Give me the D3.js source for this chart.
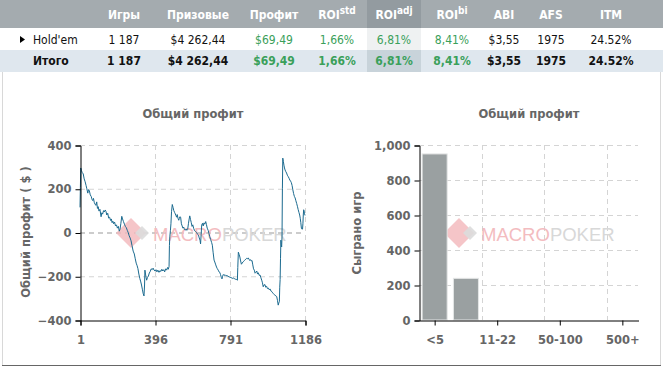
<!DOCTYPE html>
<html>
<head>
<meta charset="utf-8">
<script src="https://cdn.jsdelivr.net/npm/d3@7"></script>
<style>
  html, body { margin: 0; padding: 0; background: #fff; }
  svg { display: block; }
  .tbl { font-family: "DejaVu Sans Condensed", "DejaVu Sans", sans-serif; font-size: 12px; }
  .ax { font-family: "DejaVu Sans", Verdana, sans-serif; font-size: 11.5px; font-weight: bold; fill: #666; }
</style>
</head>
<body>
<svg id="chart" width="663" height="368"></svg>
<script>
(function() {
  // table data
  const tableHeaders = [["Игры"], ["Призовые"], ["Профит"], ["ROI", "std"], ["ROI", "adj"], ["ROI", "bi"], ["ABI"], ["AFS"], ["ITM"]];
  const holdemRow = ["1 187", "$4 262,44", "$69,49", "1,66%", "6,81%", "8,41%", "$3,55", "1975", "24.52%"];
  const totalRow = ["1 187", "$4 262,44", "$69,49", "1,66%", "6,81%", "8,41%", "$3,55", "1975", "24.52%"];
  const greenCols = [2, 3, 4, 5];

  // cumulative profit, [game, $]
  const profitCurve = [
    [1,115],[3,205],[5,295],[8,285],[12,275],[18,268],[23,245],[28,232],[33,215],[37,200],[42,180],[46,196],[50,192],
    [55,172],[60,165],[65,150],[68,146],[72,156],[76,138],[80,130],[85,124],[89,140],[93,110],[97,118],[101,98],
    [106,106],[112,72],[116,90],[120,84],[125,100],[129,94],[134,103],[138,96],[142,80],[147,88],[152,66],[157,70],
    [162,55],[166,62],[170,45],[174,52],[178,40],[183,48],[188,30],[193,35],[198,20],[203,28],[208,6],[212,16],
    [216,40],[221,74],[225,62],[230,50],[235,38],[240,28],[245,22],[250,10],[255,0],[260,-15],[265,-25],[270,-38],
    [275,-60],[281,-85],[287,-98],[292,-120],[297,-140],[302,-152],[306,-165],[311,-190],[316,-210],[320,-222],
    [325,-240],[330,-262],[334,-280],[338,-290],[341,-240],[343,-172],[346,-190],[349,-205],[352,-218],[356,-206],
    [361,-200],[366,-185],[371,-178],[376,-166],[381,-170],[386,-163],[391,-172],
    [396,-176],[401,-170],[406,-180],[411,-172],[417,-182],[422,-174],[427,-178],[432,-168],[437,-176],[442,-170],
    [447,-180],[452,-166],[457,-172],[462,-160],[466,-168],[470,-156],[472,-60],[474,-20],[477,8],[480,40],[483,95],
    [487,128],[491,115],[495,100],[499,92],[503,85],[506,78],[510,70],[513,82],[517,65],[521,56],[524,64],[527,72],
    [531,70],[535,40],[539,30],[543,20],[547,25],[551,14],[556,11],[560,16],[564,10],[568,14],[572,40],[576,62],
    [579,76],[583,60],[587,45],[591,28],[595,35],[600,18],[605,8],[610,4],[615,0],[620,-8],[625,-12],[629,-25],
    [633,-35],[636,-52],[639,-10],[642,34],[646,42],[650,30],[654,44],[658,38],[663,50],[667,36],[671,20],[676,10],
    [680,-4],[684,-18],[689,-32],[694,-45],[698,-58],[702,-90],[707,-126],[711,-135],[716,-148],[720,-158],
    [724,-165],[729,-172],[733,-180],[737,-182],[741,-192],[745,-205],[749,-212],[752,-200],[756,-192],[760,-196],
    [765,-193],[770,-198],[775,-197],[781,-200],[786,-203],
    [791,-204],[796,-206],[801,-208],[806,-210],[811,-208],[816,-212],[821,-214],[826,-215],[830,-218],[832,-160],
    [835,-90],[839,-100],[843,-112],[847,-130],[851,-145],[855,-140],[859,-135],[863,-132],[867,-128],[871,-124],
    [875,-122],[879,-118],[883,-120],[887,-116],[891,-122],[895,-128],[899,-124],[903,-130],[907,-128],[911,-148],
    [915,-166],[919,-172],[923,-186],[927,-182],[932,-176],[936,-190],[940,-184],[945,-196],[949,-194],[953,-205],
    [958,-218],[962,-230],[966,-248],[970,-240],[975,-238],[979,-250],[984,-246],[988,-256],[993,-254],[998,-262],
    [1002,-258],[1007,-268],[1011,-270],[1016,-276],[1020,-280],[1024,-284],[1028,-287],[1033,-290],[1037,-293],
    [1041,-310],[1045,-332],[1048,-322],[1051,-316],[1053,-250],[1055,-215],[1057,-120],[1059,-35],[1061,-55],
    [1063,-66],[1065,-20],[1067,200],[1069,340],[1072,325],[1075,308],[1078,295],[1081,286],[1085,278],[1089,272],
    [1093,262],[1098,255],[1102,248],[1106,240],[1110,235],[1114,228],[1118,215],[1122,195],[1126,178],[1130,165],
    [1134,158],[1138,145],[1142,133],[1146,120],[1150,105],[1154,92],[1158,80],[1161,65],[1164,45],[1167,20],
    [1170,15],[1173,16],[1175,40],[1177,80],[1179,104],[1181,100],[1183,88],[1186,78]
  ];
  const profitXTicks = [1, 396, 791, 1186];
  const profitYTicks = [-400, -200, 0, 200, 400];

  // buy-in distribution
  const buyinCats = ["<5", "5-11", "11-22", "22-50", "50-100", "100-500", "500+"];
  const buyinGames = [949, 238, 0, 0, 0, 0, 0];
  const buyinLabelCats = ["<5", "11-22", "50-100", "500+"];
  const gamesTicks = [0, 200, 400, 600, 800, 1000];

  const svg = d3.select('#chart');

  // ---- table ----
  const colX = [124, 198, 274, 337, 394, 452, 504, 551, 611];
  const tbl = svg.append('g').attr('class', 'tbl');
  tbl.append('rect').attr('x', 0).attr('y', 0).attr('width', 663).attr('height', 28).attr('fill', '#a4abaf');
  tbl.append('rect').attr('x', 367).attr('y', 0).attr('width', 54).attr('height', 28).attr('fill', '#939ba0');
  tbl.append('rect').attr('x', 0).attr('y', 28).attr('width', 663).attr('height', 22).attr('fill', '#fff');
  tbl.append('rect').attr('x', 367).attr('y', 28).attr('width', 54).attr('height', 22).attr('fill', '#eff1f2');
  tbl.append('rect').attr('x', 0).attr('y', 50).attr('width', 663).attr('height', 22).attr('fill', '#dfe7ee');
  tbl.append('rect').attr('x', 367).attr('y', 50).attr('width', 54).attr('height', 22).attr('fill', '#c8d3da');

  tbl.selectAll('text.head')
    .data(tableHeaders)
    .enter()
    .append('text')
    .attr('class', 'head')
    .attr('x', (d, i) => colX[i])
    .attr('y', 19)
    .attr('text-anchor', 'middle')
    .attr('fill', '#fff')
    .attr('font-weight', 'bold')
    .each(function(d) {
      const t = d3.select(this);
      t.append('tspan').text(d[0]);
      if (d[1]) t.append('tspan').attr('dy', -5).attr('font-size', '10px').text(d[1]);
    });

  [[holdemRow, 43.5, 'normal'], [totalRow, 65, 'bold']].forEach(([row, y, w]) => {
    tbl.selectAll(null)
      .data(row)
      .enter()
      .append('text')
      .attr('x', (d, i) => colX[i])
      .attr('y', y)
      .attr('text-anchor', 'middle')
      .attr('font-weight', w)
      .attr('fill', (d, i) => greenCols.includes(i) ? '#3aa05a' : '#111')
      .text(d => d);
  });
  tbl.append('path').attr('d', 'M20,36 L25,39.5 L20,43 Z').attr('fill', '#000');
  tbl.append('text').attr('x', 33).attr('y', 43.5).attr('fill', '#111').text("Hold'em");
  tbl.append('text').attr('x', 33).attr('y', 65).attr('fill', '#111').attr('font-weight', 'bold').text('Итого');

  // panel frame
  svg.append('path').attr('d', 'M2.5,72 V365.5 H660.5 V72').attr('fill', 'none').attr('stroke', '#d8d8d8');
  svg.append('line').attr('x1', 2).attr('x2', 661).attr('y1', 365.5).attr('y2', 365.5).attr('stroke', '#666');

  function watermark(g, cx, cy) {
    const w = g.append('g');
    w.append('path').attr('d', `M${cx - 15},${cy} L${cx},${cy - 15} L${cx + 15},${cy} L${cx},${cy + 15} Z`)
      .attr('fill', '#f3b6ba').attr('opacity', 0.8);
    w.append('path').attr('d', `M${cx + 4},${cy} L${cx + 11},${cy - 7} L${cx + 18},${cy} L${cx + 11},${cy + 7} Z`)
      .attr('fill', '#dcdcdc').attr('opacity', 0.9);
    const t = w.append('text').attr('x', cx + 22).attr('y', cy + 8)
      .attr('font-family', '"Liberation Sans", Arial, sans-serif').attr('font-size', '18.5px');
    t.append('tspan').attr('fill', '#f3bcc0').text('MACRO');
    t.append('tspan').attr('fill', '#d8d8d8').text('POKER');
  }

  // ---- profit chart ----
  const x = d3.scaleLinear().domain([1, 1186]).range([80, 305]);
  const y = d3.scaleLinear().domain([-400, 400]).range([320, 145]);
  const g1 = svg.append('g');

  g1.append('text').attr('class', 'ax').attr('x', 193).attr('y', 118).attr('text-anchor', 'middle')
    .attr('font-size', '12px').attr('fill', '#555').text('Общий профит');

  g1.selectAll('line.gy').data(profitYTicks.filter(v => v > -400)).enter().append('line')
    .attr('x1', 80).attr('x2', 305).attr('y1', d => y(d) + 0.5).attr('y2', d => y(d) + 0.5)
    .attr('stroke', d => d === 0 ? '#999' : '#d4d4d4').attr('stroke-dasharray', '5,4');
  g1.selectAll('line.gx').data(profitXTicks.slice(1)).enter().append('line')
    .attr('x1', d => Math.round(x(d)) + 0.5).attr('x2', d => Math.round(x(d)) + 0.5).attr('y1', 145).attr('y2', 320)
    .attr('stroke', '#d4d4d4').attr('stroke-dasharray', '5,4');

  watermark(g1, 131, 233);

  g1.append('path').datum(profitCurve)
    .attr('fill', 'none').attr('stroke', '#1b6a8f').attr('stroke-width', 1)
    .attr('d', d3.line().x(d => x(d[0])).y(d => y(d[1])));

  const yAx = g1.append('g').attr('transform', 'translate(80.5,0.5)')
    .call(d3.axisLeft(y).tickValues(profitYTicks).tickSize(5).tickPadding(4));
  const xAx = g1.append('g').attr('transform', 'translate(0.5,320.5)')
    .call(d3.axisBottom(x).tickValues(profitXTicks).tickFormat(d3.format('d')).tickSize(5).tickPadding(10));
  [yAx, xAx].forEach(a => {
    a.select('.domain').attr('stroke', '#000');
    a.selectAll('.tick line').attr('stroke', '#000');
    a.selectAll('text').attr('class', 'ax').attr('font-size', null).attr('font-family', null);
  });

  g1.append('text').attr('class', 'ax').attr('transform', 'translate(29.5,232) rotate(-90)')
    .attr('text-anchor', 'middle').attr('font-size', '12px').attr('fill', '#555').text('Общий профит ( $ )');

  // ---- buy-in chart ----
  const xb = d3.scaleBand().domain(buyinCats).range([419, 638]).paddingInner(0.2).paddingOuter(0.1);
  const yb = d3.scaleLinear().domain([0, 1000]).range([320, 145]);
  const g2 = svg.append('g');

  g2.append('text').attr('class', 'ax').attr('x', 529).attr('y', 118).attr('text-anchor', 'middle')
    .attr('font-size', '12px').attr('fill', '#555').text('Общий профит');

  g2.selectAll('line.gy').data(gamesTicks.slice(1)).enter().append('line')
    .attr('x1', 419).attr('x2', 638).attr('y1', d => yb(d) + 0.5).attr('y2', d => yb(d) + 0.5)
    .attr('stroke', '#d4d4d4').attr('stroke-dasharray', '5,4');
  const step = xb.step();
  g2.selectAll('line.gx').data([2, 4, 6]).enter().append('line')
    .attr('x1', d => Math.round(419 + d * step) + 0.5).attr('x2', d => Math.round(419 + d * step) + 0.5)
    .attr('y1', 145).attr('y2', 320)
    .attr('stroke', '#d4d4d4').attr('stroke-dasharray', '5,4');

  watermark(g2, 459, 233);

  g2.selectAll('rect.bar').data(buyinCats.map((c, i) => ({ c, v: buyinGames[i] })).filter(d => d.v > 0))
    .enter().append('rect')
    .attr('x', d => xb(d.c)).attr('width', xb.bandwidth())
    .attr('y', d => yb(d.v)).attr('height', d => 320 - yb(d.v))
    .attr('fill', '#9aa0a1').attr('stroke', '#e4e6e6').attr('stroke-width', 1);

  const ybAx = g2.append('g').attr('transform', 'translate(419.5,0.5)')
    .call(d3.axisLeft(yb).tickValues(gamesTicks).tickFormat(d3.format(',')).tickSize(5).tickPadding(4));
  const xbAx = g2.append('g').attr('transform', 'translate(0.5,320.5)')
    .call(d3.axisBottom(xb).tickValues(buyinLabelCats).tickSize(5).tickPadding(10).tickSizeOuter(0));
  [ybAx, xbAx].forEach(a => {
    a.select('.domain').attr('stroke', '#000');
    a.selectAll('.tick line').attr('stroke', '#000');
    a.selectAll('text').attr('class', 'ax').attr('font-size', null).attr('font-family', null);
  });

  g2.append('text').attr('class', 'ax').attr('transform', 'translate(361,233) rotate(-90)')
    .attr('text-anchor', 'middle').attr('font-size', '12px').attr('fill', '#555').text('Сыграно игр');
})();
</script>
</body>
</html>
